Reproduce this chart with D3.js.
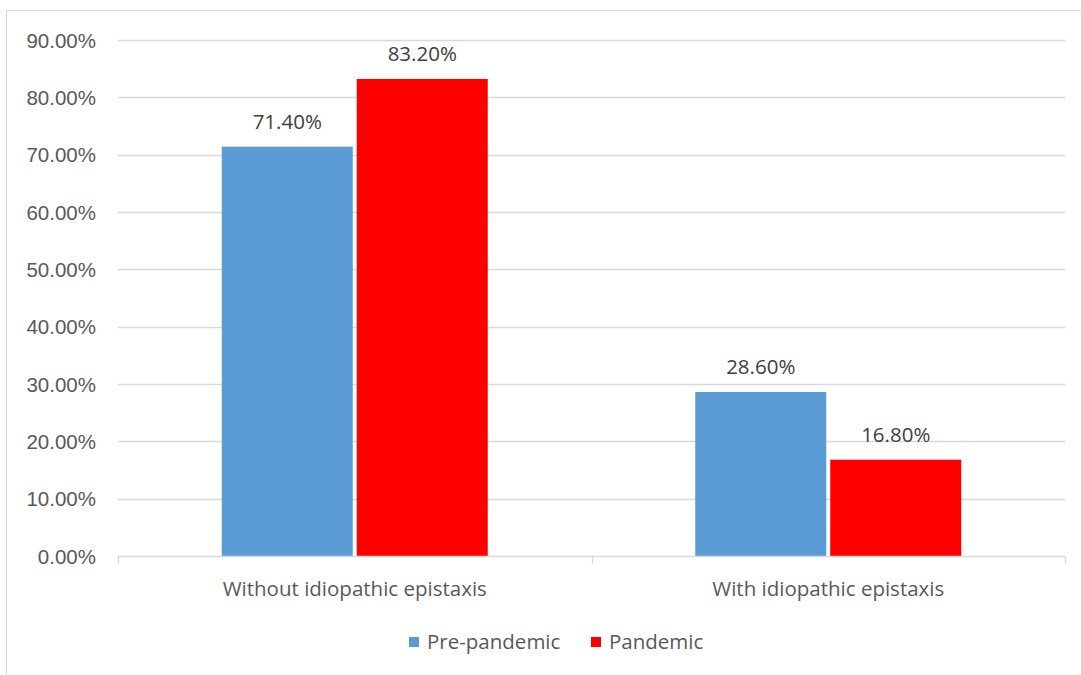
<!DOCTYPE html>
<html>
<head>
<meta charset="utf-8">
<script src="https://cdn.jsdelivr.net/npm/d3@7"></script>
<style>
  html, body { margin: 0; padding: 0; background: #fff; }
  svg { display: block; font-family: "Open Sans", Lato, sans-serif; }
</style>
</head>
<body>
<svg id="chart" width="1081" height="675"></svg>
<script>
// Share of patients by epistaxis status, before and during the pandemic
const categories = ["Without idiopathic epistaxis", "With idiopathic epistaxis"];
const seriesNames = ["Pre-pandemic", "Pandemic"];
const prePandemic = [71.4, 28.6];
const pandemic = [83.2, 16.8];
const yTicks = [0, 10, 20, 30, 40, 50, 60, 70, 80, 90];
const seriesColors = ["#5b9bd5", "#ff0000"];

const svg = d3.select("#chart");
const W = 1081, H = 675;
const FONT = "20.5px";

// outer chart frame
svg.append("rect")
  .attr("x", 6.5).attr("y", 10.5)
  .attr("width", W + 10).attr("height", H + 10)
  .attr("fill", "none").attr("stroke", "#d9d9d9").attr("stroke-width", 1);

const plot = { left: 118, right: 1065, top: 40, bottom: 556 };

const y = d3.scaleLinear().domain([0, 90]).range([plot.bottom, plot.top]);
const x0 = d3.scaleBand().domain(categories).range([plot.left, plot.right]).paddingInner(0).paddingOuter(0);

// gridlines
svg.append("g").selectAll("line")
  .data(yTicks.filter(d => d > 0))
  .join("line")
  .attr("x1", plot.left).attr("x2", plot.right)
  .attr("y1", d => Math.round(y(d)) + 0.5).attr("y2", d => Math.round(y(d)) + 0.5)
  .attr("stroke", "#d9d9d9").attr("stroke-width", 1.3);

// y-axis tick labels
const yAxis = d3.axisLeft(y).tickValues(yTicks).tickSize(0).tickPadding(0)
  .tickFormat(d => d.toFixed(2) + "%");
const gy = svg.append("g").attr("transform", `translate(${plot.left - 22},0)`).call(yAxis);
gy.select(".domain").remove();
gy.selectAll("text")
  .attr("fill", "#595959").style("font-size", FONT)
  .attr("dy", "0.35em");

// bars
const barW = 131, gap = 4;
const rows = categories.map((c, i) => ({ cat: c, values: [prePandemic[i], pandemic[i]] }));
const groups = svg.append("g").selectAll("g")
  .data(rows).join("g");

groups.each(function(row) {
  const cx = x0(row.cat) + x0.bandwidth() / 2;
  const g = d3.select(this);
  row.values.forEach((v, k) => {
    const bx = k === 0 ? cx - gap / 2 - barW : cx + gap / 2;
    g.append("rect")
      .attr("x", bx).attr("y", y(v))
      .attr("width", barW).attr("height", y(0) - y(v))
      .attr("fill", seriesColors[k]);
    g.append("text")
      .attr("x", bx + barW / 2).attr("y", y(v) - 18)
      .attr("text-anchor", "middle")
      .attr("fill", "#404040").style("font-size", FONT)
      .text(v.toFixed(2) + "%");
  });
});

// x axis line with tick marks at band boundaries
const axisY = plot.bottom + 0.5;
svg.append("line")
  .attr("x1", plot.left).attr("x2", plot.right)
  .attr("y1", axisY).attr("y2", axisY)
  .attr("stroke", "#d9d9d9").attr("stroke-width", 1.3);
const bounds = [plot.left, x0(categories[1]), plot.right];
svg.append("g").selectAll("line").data(bounds).join("line")
  .attr("x1", d => Math.round(d) + 0.5).attr("x2", d => Math.round(d) + 0.5)
  .attr("y1", axisY).attr("y2", axisY + 7)
  .attr("stroke", "#d9d9d9").attr("stroke-width", 1.3);

// category labels
svg.append("g").selectAll("text").data(categories).join("text")
  .attr("x", d => x0(d) + x0.bandwidth() / 2)
  .attr("y", 596)
  .attr("text-anchor", "middle")
  .attr("fill", "#595959").style("font-size", FONT)
  .text(d => d);

// legend
const legendItems = [
  { name: seriesNames[0], color: seriesColors[0], x: 409 },
  { name: seriesNames[1], color: seriesColors[1], x: 591 }
];
const lg = svg.append("g").selectAll("g").data(legendItems).join("g")
  .attr("transform", d => `translate(${d.x},642)`);
lg.append("rect").attr("x", 0).attr("y", -5).attr("width", 10).attr("height", 10)
  .attr("fill", d => d.color);
lg.append("text").attr("x", 18).attr("y", 0).attr("dy", "0.35em")
  .attr("fill", "#595959").style("font-size", FONT)
  .text(d => d.name);
</script>
</body>
</html>
